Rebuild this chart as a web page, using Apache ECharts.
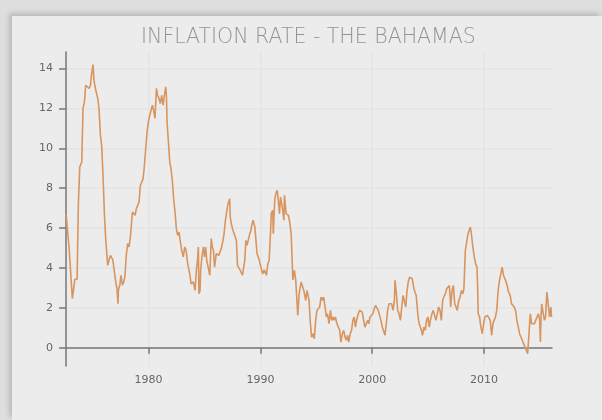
<!DOCTYPE html>
<html>
<head>
<meta charset="utf-8">
<script src="https://cdn.jsdelivr.net/npm/echarts@6/dist/echarts.min.js"></script>
<style>
  html, body { margin: 0; padding: 0; width: 602px; height: 420px; overflow: hidden; background: #dedede; }
  #panel { position: absolute; left: 12px; top: 16px; width: 590px; height: 404px; background: #ececec;
           box-shadow: -3px -3px 5px rgba(0,0,0,0.16); }
  #chart { position: absolute; left: 0; top: 0; width: 602px; height: 420px; }
</style>
</head>
<body>
<div id="panel"></div>
<div id="chart"></div>
<script>
const titleText = 'INFLATION RATE - THE BAHAMAS';
const yTicks = [0, 2, 4, 6, 8, 10, 12, 14];
const xTicks = [1980, 1990, 2000, 2010];
const dates = [
  1972.62,1972.72,1972.88,1973.05,1973.18,1973.3,1973.4,1973.6,1973.72,1973.84,1974.02,1974.13,1974.26,1974.37,1974.5,1974.67,1974.8,1974.88,1975.03,1975.1,
  1975.2,1975.33,1975.45,1975.56,1975.69,1975.8,1975.92,1976.05,1976.16,1976.34,1976.46,1976.58,1976.7,1976.8,1976.94,1977.06,1977.17,1977.26,1977.3,1977.42,
  1977.53,1977.65,1977.77,1977.89,1978.0,1978.13,1978.25,1978.37,1978.55,1978.67,1978.79,1978.9,1979.0,1979.14,1979.26,1979.38,1979.5,1979.6,1979.74,1979.86,
  1979.98,1980.1,1980.2,1980.34,1980.45,1980.57,1980.7,1980.8,1980.93,1981.05,1981.17,1981.29,1981.4,1981.53,1981.59,1981.65,1981.77,1981.89,1982.0,1982.13,
  1982.24,1982.36,1982.48,1982.6,1982.72,1982.84,1982.96,1983.1,1983.23,1983.35,1983.5,1983.68,1983.8,1983.9,1984.0,1984.15,1984.27,1984.37,1984.45,1984.5,
  1984.6,1984.65,1984.77,1984.9,1985.0,1985.1,1985.2,1985.47,1985.6,1985.7,1985.8,1985.9,1986.05,1986.15,1986.27,1986.4,1986.5,1986.65,1986.75,1986.87,
  1987.0,1987.1,1987.25,1987.3,1987.4,1987.5,1987.6,1987.7,1987.85,1987.95,1988.05,1988.2,1988.39,1988.5,1988.6,1988.7,1988.8,1988.9,1989.05,1989.15,
  1989.25,1989.35,1989.5,1989.6,1989.7,1989.8,1989.9,1990.0,1990.1,1990.2,1990.35,1990.54,1990.66,1990.78,1990.9,1990.97,1991.1,1991.15,1991.28,1991.37,
  1991.5,1991.6,1991.7,1991.8,1991.9,1992.0,1992.1,1992.15,1992.3,1992.4,1992.5,1992.62,1992.75,1992.9,1993.04,1993.16,1993.28,1993.34,1993.46,1993.64,
  1993.76,1993.88,1994.05,1994.17,1994.35,1994.47,1994.58,1994.7,1994.82,1994.94,1995.06,1995.18,1995.3,1995.42,1995.54,1995.66,1995.78,1995.9,1996.0,1996.14,
  1996.26,1996.38,1996.5,1996.6,1996.7,1996.85,1996.97,1997.09,1997.2,1997.33,1997.45,1997.57,1997.69,1997.8,1997.9,1998.03,1998.15,1998.27,1998.39,1998.5,
  1998.6,1998.75,1998.87,1998.99,1999.1,1999.23,1999.35,1999.47,1999.6,1999.7,1999.8,1999.95,2000.06,2000.18,2000.3,2000.42,2000.54,2000.66,2000.78,2000.9,
  2001.0,2001.14,2001.26,2001.38,2001.5,2001.6,2001.74,2001.86,2001.98,2002.04,2002.16,2002.28,2002.4,2002.52,2002.64,2002.76,2002.88,2003.0,2003.1,2003.22,
  2003.34,2003.46,2003.58,2003.7,2003.82,2003.94,2004.0,2004.1,2004.2,2004.3,2004.4,2004.5,2004.62,2004.74,2004.86,2004.98,2005.1,2005.2,2005.34,2005.46,
  2005.58,2005.7,2005.82,2005.94,2006.06,2006.18,2006.3,2006.4,2006.54,2006.66,2006.78,2006.9,2007.02,2007.14,2007.26,2007.38,2007.5,2007.6,2007.74,2007.86,
  2007.98,2008.1,2008.2,2008.33,2008.45,2008.57,2008.78,2008.9,2009.0,2009.13,2009.25,2009.37,2009.42,2009.48,2009.6,2009.72,2009.84,2009.96,2010.08,2010.2,
  2010.3,2010.44,2010.56,2010.68,2010.8,2010.9,2011.02,2011.14,2011.26,2011.38,2011.5,2011.62,2011.74,2011.86,2011.98,2012.1,2012.2,2012.34,2012.46,2012.58,
  2012.7,2012.82,2012.94,2013.06,2013.18,2013.3,2013.42,2013.54,2013.66,2013.78,2013.9,2014.0,2014.14,2014.26,2014.38,2014.5,2014.62,2014.74,2014.86,2014.98,
  2015.04,2015.1,2015.16,2015.3,2015.4,2015.5,2015.62,2015.74,2015.86,2015.98,2016.04
];
const rates = [
  6.69,6.69,5.05,5.0,2.46,2.46,3.43,3.43,7.3,9.06,9.31,12.0,12.32,13.16,13.1,13.0,13.16,13.66,14.2,13.5,
  13.1,13.0,12.5,12.0,10.65,10.15,8.64,6.64,5.47,4.13,4.1,4.63,4.65,4.4,3.8,3.29,2.96,2.2,2.9,3.13,
  3.63,3.13,3.29,3.63,4.63,5.22,5.05,5.55,6.8,6.87,6.64,6.97,7.05,7.3,8.14,8.3,8.48,8.98,9.98,10.82,
  11.32,11.66,11.7,12.16,11.9,11.5,13.0,12.66,12.5,12.24,12.66,12.16,12.6,13.08,12.66,11.32,10.32,9.31,9.0,8.31,
  7.47,6.8,5.97,5.64,5.8,5.3,4.88,4.55,5.05,4.88,4.2,3.7,3.2,3.3,3.3,2.87,3.88,4.38,5.05,2.7,
  2.87,3.88,4.55,5.05,4.55,5.05,4.38,3.63,5.47,5.05,4.88,4.04,4.72,4.8,4.63,4.72,4.97,5.38,5.72,6.39,
  6.89,7.22,7.47,6.55,6.2,5.97,5.8,5.88,5.38,4.13,4.04,3.88,3.63,3.7,4.38,5.38,5.13,5.13,5.72,5.88,
  6.22,6.39,6.05,5.38,4.72,4.55,4.38,4.13,4.04,3.7,3.9,3.63,4.2,4.38,5.72,6.72,6.89,5.72,7.39,7.72,
  7.89,7.39,6.72,7.55,7.64,6.89,6.39,7.64,6.72,6.8,6.64,6.3,5.72,3.4,3.88,3.37,2.2,1.62,2.7,3.29,
  3.2,2.87,2.37,2.87,2.37,1.2,0.53,0.7,0.45,1.37,1.87,1.87,2.04,2.54,2.37,2.54,2.04,1.54,1.7,1.2,
  1.87,1.37,1.54,1.37,1.54,1.2,1.03,0.87,0.28,0.7,0.87,0.53,0.37,0.62,0.28,0.7,0.87,1.37,1.54,1.03,
  1.37,1.7,1.87,1.95,1.79,1.37,1.03,1.2,1.37,1.2,1.54,1.45,1.7,1.95,2.12,2.04,1.87,1.95,1.37,1.03,
  0.87,0.62,1.2,1.87,2.2,2.12,2.2,1.87,2.37,3.38,2.7,1.87,1.7,1.37,2.04,2.62,2.62,2.04,2.79,3.29,
  3.54,3.54,3.46,3.04,2.79,2.6,2.2,1.54,1.2,1.03,0.87,0.62,1.03,0.87,1.37,1.54,1.03,1.37,1.7,1.87,
  1.95,1.37,1.7,2.04,1.87,1.37,2.37,2.54,2.7,2.96,2.87,3.12,2.04,2.87,3.12,2.2,2.04,1.87,2.37,2.54,
  2.87,2.7,2.96,4.88,5.3,5.72,6.05,5.55,5.05,4.55,4.2,4.04,3.2,1.7,1.54,1.03,0.7,1.2,1.54,1.45,
  1.62,1.54,1.37,0.62,1.2,1.37,1.54,1.87,2.87,3.38,3.7,4.04,3.63,3.7,3.29,3.04,2.79,2.62,2.2,2.12,
  2.04,1.87,1.37,1.37,0.7,0.7,0.37,0.2,0.12,-0.13,-0.3,0.53,1.7,1.2,1.12,1.2,1.37,1.28,1.7,1.37,
  0.28,1.54,2.2,1.7,1.37,1.54,2.79,2.2,1.54,2.04,1.54
];

const seriesData = dates.map((d, i) => [d, rates[i]]);
const chart = echarts.init(document.getElementById('chart'), null, { renderer: 'canvas' });
const labelFont = { color: '#666', fontSize: 11, fontFamily: 'DejaVu Sans' };
chart.setOption({
  backgroundColor: 'transparent',
  animation: false,
  title: {
    text: titleText,
    left: 136,
    top: 22,
    textStyle: { color: '#949494', fontSize: 20.5, fontWeight: 200, fontFamily: 'DejaVu Sans' }
  },
  grid: { left: 66, top: 52, width: 486, height: 314, containLabel: false },
  xAxis: {
    type: 'value',
    min: 1972.61,
    max: 2016.08,
    axisLine: { show: true, lineStyle: { color: '#777', width: 1.5 } },
    axisTick: { show: true, length: 6, customValues: xTicks, lineStyle: { color: '#777', width: 1.5 } },
    axisLabel: Object.assign({ customValues: xTicks, margin: 9, formatter: v => String(v) }, labelFont),
    splitLine: { show: true, lineStyle: { color: '#e4e4e4', width: 1.5 } }
  },
  yAxis: {
    type: 'value',
    min: -0.92,
    max: 14.83,
    axisLine: { show: true, lineStyle: { color: '#777', width: 1.5 } },
    axisTick: { show: true, length: 7, customValues: yTicks, lineStyle: { color: '#777', width: 1.5 } },
    axisLabel: Object.assign({ customValues: yTicks, margin: 13 }, labelFont),
    splitLine: { show: true, lineStyle: { color: '#e4e4e4', width: 1.5 } }
  },
  series: [{
    type: 'line',
    data: seriesData,
    showSymbol: false,
    symbol: 'none',
    lineStyle: { color: '#d8955f', width: 1.6 },
    clip: true
  }]
});
</script>
</body>
</html>
